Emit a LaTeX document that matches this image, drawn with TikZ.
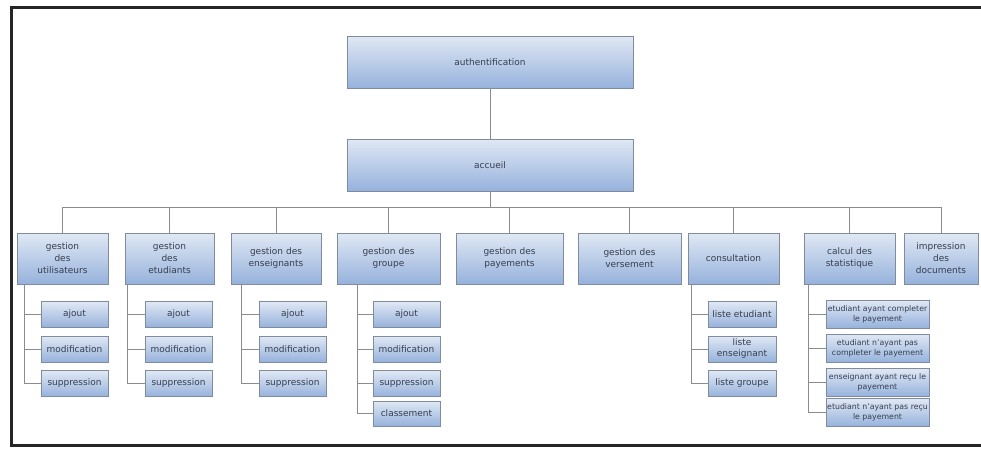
\documentclass[tikz,border=0pt]{standalone}
\usepackage{fontspec}
\setmainfont{DejaVu Sans}
\definecolor{boxtop}{RGB}{224,232,244}
\definecolor{boxbot}{RGB}{150,178,220}
\definecolor{boxline}{RGB}{128,140,158}
\definecolor{txt}{RGB}{55,62,78}
\definecolor{linkgray}{RGB}{140,140,140}
\tikzset{
  box/.style={draw=boxline, line width=0.7pt, top color=boxtop, bottom color=boxbot,
    text=txt, align=center, inner sep=1pt},
  topbox/.style={box, minimum width=286pt, minimum height=52pt,
    font={\fontsize{9}{12}\selectfont}},
  modbox/.style={box, minimum height=51pt, font={\fontsize{9}{12}\selectfont}},
  subbox/.style={box, minimum width=67pt, minimum height=26pt,
    font={\fontsize{9}{11}\selectfont}},
  statbox/.style={box, minimum width=103pt, minimum height=28pt,
    font={\fontsize{7.8}{10}\selectfont}},
  link/.style={draw=linkgray, line width=0.8pt},
  frame/.style={draw=black!85, line width=3pt}
}
\begin{document}
\begin{tikzpicture}[x=1pt,y=-1pt]
\useasboundingbox (0,0) rectangle (981,448);
\fill[white] (0,0) rectangle (981,448);
\draw[frame] (981,7) -- (11.5,7) -- (11.5,445.5) -- (981,445.5);

% top of the hierarchy
\node[topbox] (auth) at (490,62) {authentification};
\node[topbox] (acc) at (490,165) {accueil};

% modules
\node[modbox, minimum width=91pt]  (g1) at (62.5,258.5)  {gestion\\des\\utilisateurs};
\node[modbox, minimum width=89pt]  (g2) at (169.5,258.5) {gestion\\des\\etudiants};
\node[modbox, minimum width=90pt]  (g3) at (276,258.5)   {gestion des\\enseignants};
\node[modbox, minimum width=103pt] (g4) at (388.5,258.5) {gestion des\\groupe};
\node[modbox, minimum width=107pt] (g5) at (509.5,258.5) {gestion des\\payements};
\node[modbox, minimum width=103pt] (g6) at (629.5,258.5) {gestion des\\versement};
\node[modbox, minimum width=91pt]  (g7) at (733.5,258.5) {consultation};
\node[modbox, minimum width=91pt]  (g8) at (849.5,258.5) {calcul des\\statistique};
\node[modbox, minimum width=74pt]  (g9) at (941,258.5)   {impression\\des\\documents};

% sub-functions
\node[subbox] (c11) at (74.5,314.5) {ajout};
\node[subbox] (c12) at (74.5,349)   {modification};
\node[subbox] (c13) at (74.5,383.5) {suppression};

\node[subbox] (c21) at (178.5,314.5) {ajout};
\node[subbox] (c22) at (178.5,349)   {modification};
\node[subbox] (c23) at (178.5,383.5) {suppression};

\node[subbox] (c31) at (292.5,314.5) {ajout};
\node[subbox] (c32) at (292.5,349)   {modification};
\node[subbox] (c33) at (292.5,383.5) {suppression};

\node[subbox] (c41) at (406.5,314.5) {ajout};
\node[subbox] (c42) at (406.5,349)   {modification};
\node[subbox] (c43) at (406.5,383.5) {suppression};
\node[subbox, minimum height=25pt] (c44) at (406.5,413.5) {classement};

\node[subbox, minimum width=68pt] (c71) at (742,314.5) {liste etudiant};
\node[subbox, minimum width=68pt] (c72) at (742,349)   {liste\\enseignant};
\node[subbox, minimum width=68pt] (c73) at (742,383.5) {liste groupe};

\node[statbox] (c81) at (877.5,314)   {etudiant ayant completer\\le payement};
\node[statbox] (c82) at (877.5,348)   {etudiant n'ayant pas\\completer le payement};
\node[statbox] (c83) at (877.5,382.5) {enseignant ayant reçu le\\payement};
\node[statbox] (c84) at (877.5,412.5) {etudiant n'ayant pas reçu\\le payement};

% connectors
\coordinate (bus) at (0,207);
\draw[link] (auth) -- (acc);
\draw[link] (acc.south) -- (acc.south |- bus);
\draw[link] (g1.north |- bus) -- (g9.north |- bus);
\foreach \g in {g1,g2,g3,g4,g5,g6,g7,g8,g9}
  \draw[link] (\g.north) -- (\g.north |- bus);

\foreach \c in {c11,c12,c13}
  \draw[link] ([xshift=8pt]g1.south west) |- (\c.west);
\foreach \c in {c21,c22,c23}
  \draw[link] ([xshift=3pt]g2.south west) |- (\c.west);
\foreach \c in {c31,c32,c33}
  \draw[link] ([xshift=11pt]g3.south west) |- (\c.west);
\foreach \c in {c41,c42,c43,c44}
  \draw[link] ([xshift=21pt]g4.south west) |- (\c.west);
\foreach \c in {c71,c72,c73}
  \draw[link] ([xshift=4pt]g7.south west) |- (\c.west);
\foreach \c in {c81,c82,c83,c84}
  \draw[link] ([xshift=5pt]g8.south west) |- (\c.west);
\end{tikzpicture}
\end{document}
